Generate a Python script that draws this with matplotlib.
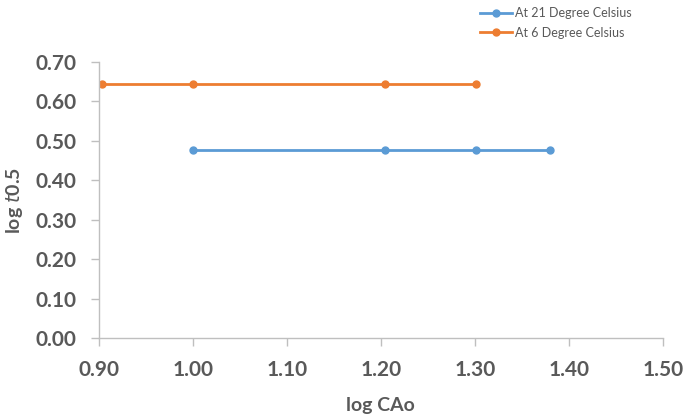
import matplotlib
matplotlib.use('Agg')
import matplotlib.pyplot as plt

plt.rcParams['font.family'] = ['Lato', 'DejaVu Sans']

# data
x_21 = [1.000, 1.204, 1.301, 1.380]
y_21 = [0.478, 0.478, 0.478, 0.478]
x_6 = [0.903, 1.000, 1.204, 1.301]
y_6 = [0.645, 0.645, 0.645, 0.645]
xticks = [0.90, 1.00, 1.10, 1.20, 1.30, 1.40, 1.50]
yticks = [0.00, 0.10, 0.20, 0.30, 0.40, 0.50, 0.60, 0.70]

grey = '#595959'
axis_grey = '#BFBFBF'

fig = plt.figure(figsize=(6.85, 4.19), dpi=100)
ax = fig.add_axes([0.1445, 0.193, 0.823, 0.659])

ax.plot(x_21, y_21, color='#5B9BD5', lw=2, marker='o', ms=5, label='At 21 Degree Celsius')
ax.plot(x_6, y_6, color='#ED7D31', lw=2, marker='o', ms=5, label='At 6 Degree Celsius')

ax.set_xlim(0.90, 1.50)
ax.set_ylim(0.00, 0.70)
ax.set_xticks(xticks)
ax.set_yticks(yticks)
ax.set_xticklabels(['%.2f' % v for v in xticks])
ax.set_yticklabels(['%.2f' % v for v in yticks])

for s in ['top', 'right']:
    ax.spines[s].set_visible(False)
for s in ['left', 'bottom']:
    ax.spines[s].set_color(axis_grey)
    ax.spines[s].set_linewidth(1)
ax.tick_params(colors=axis_grey, length=6, width=1, labelsize=15, pad=10)
for lab in ax.get_xticklabels() + ax.get_yticklabels():
    lab.set_color(grey)
    lab.set_fontweight('bold')

ax.set_xlabel('log CAo', fontsize=14, fontweight='bold', color=grey, labelpad=12)
ax.set_ylabel(r'log $\mathit{t}$0.5', fontsize=14, fontweight='bold', color=grey, labelpad=8)

leg = fig.legend(loc='upper left', bbox_to_anchor=(0.685, 1.01), frameon=False,
                 fontsize=9, handlelength=2.5, labelspacing=0.6, handletextpad=0.3)
for t in leg.get_texts():
    t.set_color(grey)

fig.savefig('out.png', dpi=100)
